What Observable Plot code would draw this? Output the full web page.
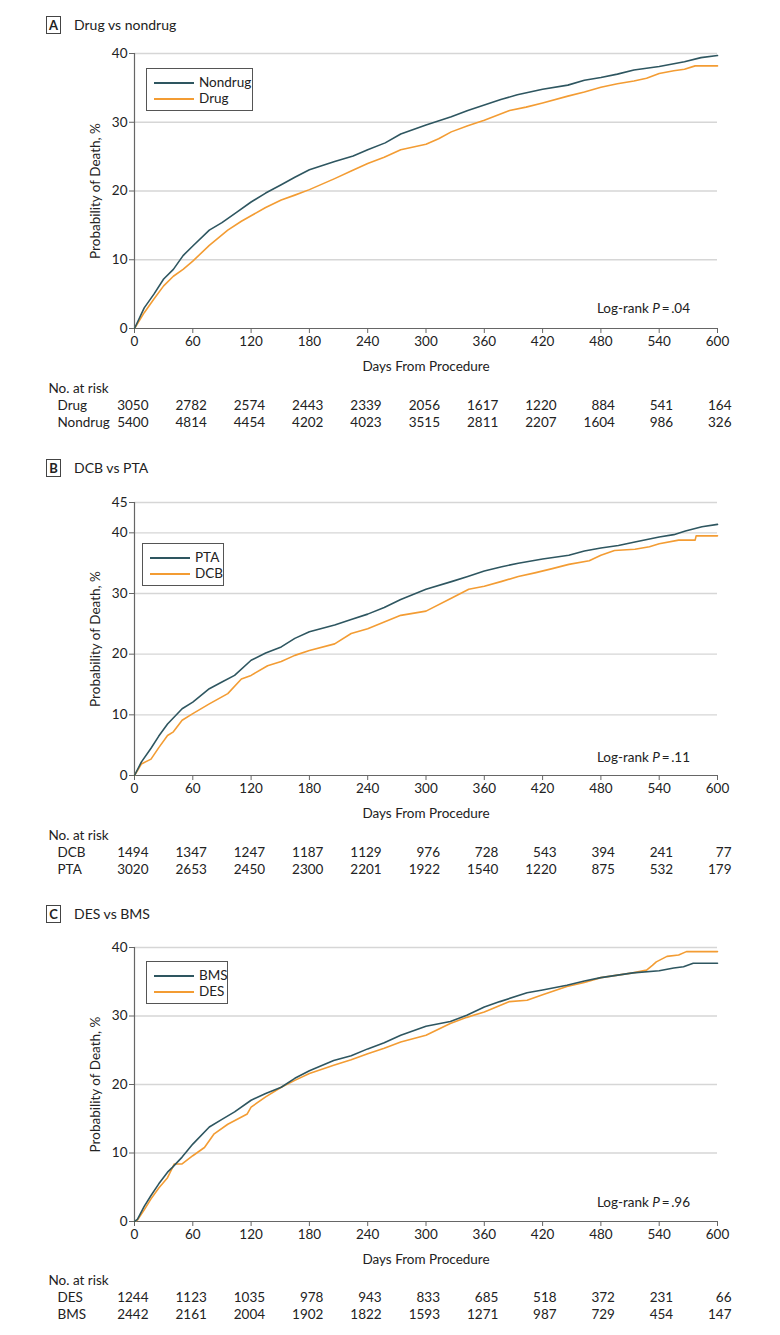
<!DOCTYPE html>
<html><head><meta charset="utf-8">
<script src="https://cdn.jsdelivr.net/npm/d3@7"></script>
<script src="https://cdn.jsdelivr.net/npm/@observablehq/plot@0.6"></script>
<style>
body{margin:0;background:#fff;}
#root{position:relative;width:780px;height:1335px;font-family:Lato,"Noto Sans",sans-serif;color:#222;overflow:hidden;}
.box{position:absolute;border:1px solid #444;font-weight:bold;font-size:13px;text-align:center;box-sizing:border-box;}
.ttl{position:absolute;font-size:14px;white-space:nowrap;}
.leg{position:absolute;border:1px solid #555;box-sizing:border-box;background:#fff;}
.legline{position:absolute;height:2px;}
.legtxt{position:absolute;font-size:13.5px;line-height:16px;white-space:nowrap;}
.pval{position:absolute;font-size:13.5px;white-space:nowrap;text-align:right;}
</style></head>
<body><div id="root"></div>
<script>
// ---------- data ----------
const xTicks = [0, 60, 120, 180, 240, 300, 360, 420, 480, 540, 600];
const riskDays = [0, 60, 120, 180, 240, 300, 360, 420, 480, 540, 600];

// Panel A
const aNondrug = [[0,0],[10,3.0],[20,5.0],[30,7.2],[40,8.6],[50,10.6],[60,12.0],[77,14.3],[90,15.4],[105,16.9],[120,18.4],[135,19.7],[151,20.9],[165,22.0],[180,23.1],[206,24.3],[225,25.1],[240,26.0],[258,27.0],[274,28.3],[300,29.6],[326,30.8],[343,31.7],[360,32.5],[377,33.3],[394,34.0],[420,34.8],[446,35.4],[463,36.1],[480,36.5],[497,37.0],[514,37.6],[540,38.1],[566,38.8],[583,39.4],[600,39.7]];
const aDrug = [[0,0],[10,2.3],[20,4.3],[30,6.2],[40,7.6],[50,8.6],[60,9.8],[77,12.1],[96,14.3],[110,15.6],[120,16.4],[135,17.6],[151,18.7],[165,19.4],[180,20.2],[206,21.8],[223,22.9],[240,24.0],[257,24.9],[274,26.0],[300,26.8],[313,27.6],[326,28.6],[343,29.5],[360,30.3],[386,31.7],[403,32.2],[420,32.8],[446,33.8],[463,34.4],[480,35.1],[497,35.6],[514,36.0],[527,36.4],[540,37.1],[555,37.5],[566,37.7],[577,38.2],[600,38.2]];
const riskDrug = [3050, 2782, 2574, 2443, 2339, 2056, 1617, 1220, 884, 541, 164];
const riskNondrug = [5400, 4814, 4454, 4202, 4023, 3515, 2811, 2207, 1604, 986, 326];

// Panel B
const bPTA = [[0,0],[7,2.2],[17,4.5],[25,6.5],[34,8.5],[49,11.0],[60,12.1],[77,14.3],[90,15.4],[103,16.5],[120,19.0],[135,20.2],[151,21.2],[165,22.6],[180,23.7],[206,24.8],[223,25.7],[240,26.6],[257,27.7],[274,29.0],[300,30.7],[327,32.0],[343,32.8],[360,33.7],[378,34.4],[395,35.0],[420,35.7],[447,36.3],[463,37.0],[480,37.5],[498,37.9],[515,38.5],[540,39.3],[555,39.7],[567,40.3],[584,41.0],[600,41.4]];
const bDCB = [[0,0],[7,1.9],[17,2.7],[25,4.6],[34,6.6],[40,7.2],[49,9.1],[60,10.2],[77,11.8],[96,13.5],[110,15.9],[120,16.5],[137,18.1],[151,18.8],[165,19.8],[180,20.6],[206,21.7],[223,23.4],[240,24.2],[257,25.3],[274,26.4],[300,27.1],[327,29.3],[344,30.7],[360,31.2],[378,32.0],[395,32.8],[412,33.4],[430,34.1],[447,34.8],[468,35.4],[480,36.3],[494,37.1],[515,37.3],[530,37.7],[540,38.2],[560,38.8],[577,38.8],[578,39.5],[600,39.5]];
const riskDCB = [1494, 1347, 1247, 1187, 1129, 976, 728, 543, 394, 241, 77];
const riskPTA = [3020, 2653, 2450, 2300, 2201, 1922, 1540, 1220, 875, 532, 179];

// Panel C
const cBMS = [[0,0],[3,0.3],[10,2.2],[17,3.8],[25,5.5],[34,7.2],[39,7.9],[49,9.4],[60,11.3],[77,13.8],[90,14.9],[103,16.0],[120,17.7],[135,18.7],[151,19.6],[165,20.9],[180,22.0],[205,23.5],[223,24.2],[240,25.2],[257,26.1],[274,27.2],[300,28.5],[325,29.2],[342,30.1],[360,31.3],[376,32.1],[404,33.4],[420,33.8],[445,34.5],[463,35.1],[480,35.6],[513,36.3],[540,36.6],[555,37.0],[565,37.2],[575,37.7],[600,37.7]];
const cDES = [[0,0],[3,0.2],[10,1.7],[17,3.3],[25,4.9],[34,6.4],[41,8.4],[49,8.4],[60,9.6],[72,10.8],[82,12.8],[96,14.2],[116,15.7],[120,16.7],[135,18.2],[151,19.6],[165,20.6],[180,21.6],[205,22.8],[223,23.6],[240,24.5],[257,25.3],[274,26.2],[300,27.2],[325,28.9],[342,29.8],[360,30.6],[386,32.1],[404,32.3],[420,33.1],[445,34.3],[463,34.9],[480,35.6],[513,36.3],[527,36.7],[533,37.4],[537,37.9],[548,38.7],[560,38.9],[568,39.4],[600,39.4]];
const riskDES = [1244, 1123, 1035, 978, 943, 833, 685, 518, 372, 231, 66];
const riskBMS = [2442, 2161, 2004, 1902, 1822, 1593, 1271, 987, 729, 454, 147];

const DARK = "#2e5660", ORANGE = "#f39c33";
const FONT = "Lato, 'Noto Sans', sans-serif";

const panels = [
  {letter:"A", title:"Drug vs nondrug", top:40, plotH:275, yMax:40, yTicks:[0,10,20,30,40],
   dark:{name:"Nondrug", data:aNondrug, risk:riskNondrug}, orange:{name:"Drug", data:aDrug, risk:riskDrug},
   titleY:16, legend:{x:146,y:68,w:107,h:43}, p:".04", pY:299, tableTop:380},
  {letter:"B", title:"DCB vs PTA", top:489, plotH:273, yMax:45, yTicks:[0,10,20,30,40,45],
   dark:{name:"PTA", data:bPTA, risk:riskPTA}, orange:{name:"DCB", data:bDCB, risk:riskDCB},
   titleY:459, legend:{x:142,y:543,w:82,h:43}, p:".11", pY:748, tableTop:827},
  {letter:"C", title:"DES vs BMS", top:934, plotH:274, yMax:40, yTicks:[0,10,20,30,40],
   dark:{name:"BMS", data:cBMS, risk:riskBMS}, orange:{name:"DES", data:cDES, risk:riskDES},
   titleY:905, legend:{x:146,y:961,w:82,h:43}, p:".96", pY:1193, tableTop:1272}
];

const root = document.getElementById("root");
function place(el, x, y){ el.style.left = x+"px"; el.style.top = y+"px"; root.appendChild(el); return el; }
function div(cls, html){ const d = document.createElement("div"); d.className = cls; if (html!=null) d.innerHTML = html; return d; }

for (const P of panels) {
  // title
  const bx = div("box", P.letter); bx.style.width="15px"; bx.style.height="18px"; bx.style.lineHeight="16px";
  place(bx, 46, P.titleY);
  const tt = div("ttl", P.title); tt.style.lineHeight="18px"; place(tt, 74, P.titleY);

  // chart
  const rows = [];
  for (const [d,v] of P.orange.data) rows.push({day:d, pct:v, grp:P.orange.name});
  for (const [d,v] of P.dark.data) rows.push({day:d, pct:v, grp:P.dark.name});
  const mt = 13, mb = 50;
  const chart = Plot.plot({
    width: 780, height: mt + P.plotH + mb,
    marginLeft: 134, marginRight: 63, marginTop: mt, marginBottom: mb,
    style: {fontFamily: FONT, fontSize: "13px", color: "#222", background: "transparent", overflow: "visible"},
    x: {domain: [0, 600]},
    y: {domain: [0, P.yMax]},
    color: {domain: [P.dark.name, P.orange.name], range: [DARK, ORANGE]},
    marks: [
      Plot.gridY(P.yTicks.filter(t => t > 0), {stroke: "#d6d6d6", strokeOpacity: 1, strokeWidth: 1.3}),
      Plot.axisX({ticks: xTicks, tickSize: 5, tickPadding: 3, stroke: "#666", fontSize: 13.5, label: null}),
      Plot.axisX({ticks: [], label: "Days From Procedure", labelAnchor: "center", labelArrow: "none",
                  labelOffset: 42, fontSize: 13.5}),
      Plot.axisY({ticks: P.yTicks, tickSize: 5, tickPadding: 2, stroke: "#666", fontSize: 13.5, label: null}),
      Plot.axisY({ticks: [], label: "Probability of Death, %", labelAnchor: "center", labelArrow: "none",
                  labelOffset: 44, fontSize: 13.5}),
      Plot.ruleX([0], {stroke: "#666", strokeWidth: 1.2}),
      Plot.ruleY([0], {stroke: "#666", strokeWidth: 1.2}),
      Plot.line(rows, {x: "day", y: "pct", z: "grp", stroke: "grp", strokeWidth: 1.6, curve: "linear"})
    ]
  });
  chart.style.position = "absolute";
  place(chart, 0, P.top);

  // legend
  const L = P.legend;
  const lg = div("leg"); lg.style.width = L.w+"px"; lg.style.height = L.h+"px"; place(lg, L.x, L.y);
  [[P.dark, DARK, 13], [P.orange, ORANGE, 29]].forEach(([s, col, yy]) => {
    const ln = div("legline"); ln.style.background = col; ln.style.width = "40px";
    ln.style.left = "7px"; ln.style.top = yy + "px"; lg.appendChild(ln);
    const tx = div("legtxt", s.name); tx.style.left = "52px"; tx.style.top = (yy - 8) + "px"; lg.appendChild(tx);
  });

  // p-value
  const pv = div("pval", "Log-rank <i>P</i>\u2009=\u2009" + P.p);
  pv.style.right = "90px"; pv.style.top = P.pY + "px"; pv.style.lineHeight = "18px"; root.appendChild(pv);

  // at-risk table
  const tRows = [];
  riskDays.forEach((d, i) => {
    tRows.push({day: d, n: P.orange.risk[i], grp: P.orange.name});
    tRows.push({day: d, n: P.dark.risk[i], grp: P.dark.name});
  });
  const hdr = "No. at risk";
  const table = Plot.plot({
    width: 780, height: 52, marginLeft: 134, marginRight: 63, marginTop: 0, marginBottom: 0,
    style: {fontFamily: FONT, fontSize: "13px", color: "#222", background: "transparent", overflow: "visible"},
    x: {domain: [0, 600], axis: null},
    y: {type: "point", domain: [hdr, P.orange.name, P.dark.name], range: [7, 42], padding: 0, axis: null},
    marks: [
      Plot.text([hdr], {y: d => d, text: d => d, frameAnchor: "left", textAnchor: "start", dx: -86, fill: "#222", fontSize: 13.5}),
      Plot.text([P.orange.name, P.dark.name], {y: d => d, text: d => d, frameAnchor: "left", textAnchor: "start", dx: -77, fill: "#222", fontSize: 13.5}),
      Plot.text(tRows, {x: "day", y: "grp", text: d => String(d.n), textAnchor: "end", dx: 14, fill: "#222", fontSize: 13.5})
    ]
  });
  table.style.position = "absolute";
  place(table, 0, P.tableTop);
}
</script>
</body></html>
